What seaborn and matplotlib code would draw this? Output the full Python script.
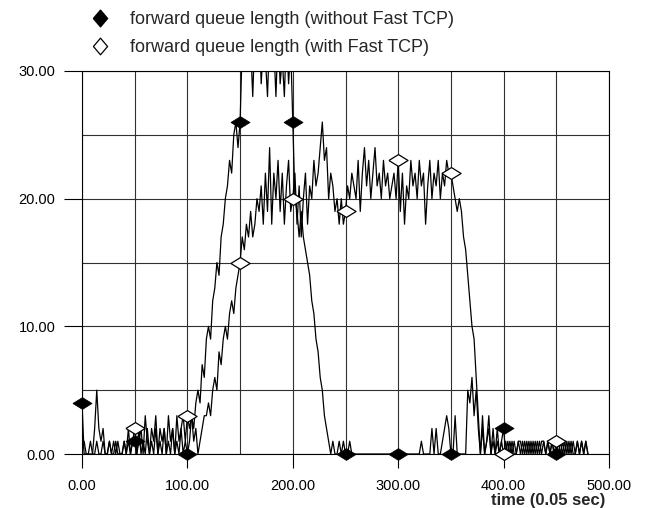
import numpy as np
import pandas as pd
import matplotlib
matplotlib.use("Agg")
import matplotlib.pyplot as plt
from matplotlib.lines import Line2D
from matplotlib.ticker import FormatStrFormatter, MultipleLocator
import seaborn as sns

# ===============================
# DATA (queue length, one value every 2 time units)
# ===============================
STEP = 2

# without Fast TCP
queue_without = [
    4, 0, 0, 0, 0, 0, 2, 5, 2, 1, 2, 0, 0, 1, 0, 1, 0, 1, 0, 0, 1, 0, 1, 0, 1,
    1, 0, 2, 0, 1, 0, 2, 0, 1, 0, 2, 0, 1, 0, 2, 0, 1, 0, 2, 0, 1, 0, 2, 0, 1,
    0, 1, 3, 2, 4, 5, 4, 7, 6, 9, 10, 9, 12, 13, 15, 14, 17, 18, 20, 21, 23, 22, 25, 26, 24,
    26, 32, 31, 34, 30, 32, 28, 33, 30, 34, 29, 32, 31, 28, 33, 30, 32, 28, 33, 29, 31, 28, 33, 29, 32,
    26, 20, 19, 17, 19, 17, 16, 15, 14, 12, 11, 9, 8, 6, 5, 3, 2, 1, 0, 1, 0, 0, 1, 0, 1,
    0, 0, 1, 0, 0, 0, 0, 0, 0, 0, 0, 0, 0, 0, 0, 0, 0, 0, 0, 0, 0, 0, 0, 0, 0,
    0, 0, 0, 0, 0, 0, 0, 0, 0, 0, 0, 1, 0, 0, 0, 0, 2, 0, 2, 0, 0, 1, 2, 3, 2,
    0, 0, 3, 0, 0, 0, 0, 0, 5, 4, 6, 3, 5, 2, 0, 3, 0, 1, 2, 0, 1, 0, 2, 0, 1,
    2, 0, 1, 0, 1, 0, 0, 1, 0, 1, 0, 1, 0, 1, 0, 1, 0, 1, 0, 1, 0, 1, 0, 1, 0,
    0, 1, 0, 1, 0, 1, 0, 1, 0, 0, 1, 0, 1, 0, 1, 0,
]

# with Fast TCP
queue_with = [
    0, 1, 0, 0, 1, 0, 0, 1, 0, 0, 1, 0, 0, 1, 0, 0, 1, 0, 0, 0, 1, 0, 2, 0, 1,
    2, 0, 1, 2, 0, 3, 1, 0, 2, 1, 3, 0, 2, 1, 2, 0, 3, 1, 2, 0, 3, 1, 2, 3, 1,
    3, 2, 3, 1, 2, 0, 1, 2, 3, 3, 4, 3, 5, 6, 5, 8, 7, 9, 10, 9, 11, 12, 11, 13, 14,
    15, 17, 16, 18, 17, 19, 17, 18, 20, 19, 21, 18, 22, 19, 24, 18, 22, 20, 23, 19, 22, 18, 21, 23, 19,
    20, 22, 18, 21, 17, 20, 22, 18, 21, 20, 23, 21, 22, 24, 26, 23, 24, 20, 22, 21, 19, 20, 18, 20, 18,
    19, 21, 20, 22, 21, 20, 23, 19, 22, 24, 21, 23, 20, 22, 24, 21, 22, 20, 23, 21, 22, 20, 21, 22, 20,
    23, 19, 22, 18, 21, 20, 23, 21, 22, 20, 23, 21, 22, 18, 21, 23, 20, 22, 21, 23, 20, 22, 21, 23, 22,
    22, 21, 20, 19, 20, 19, 17, 16, 14, 12, 10, 9, 6, 3, 0, 2, 0, 1, 3, 0, 2, 0, 1, 0, 1,
    0, 1, 0, 1, 0, 1, 0, 1, 1, 0, 1, 0, 1, 0, 1, 0, 1, 0, 1, 1, 0, 1, 0, 1, 0,
    1, 0, 1, 0, 1, 0, 1, 0, 1, 0, 1, 0, 1, 0, 1, 0,
]

# marker samples
marker_t_without = [0, 50, 100, 150, 200, 250, 300, 350, 400, 450]
marker_v_without = [4, 1, 0, 26, 26, 0, 0, 0, 2, 0]
marker_t_with = [50, 100, 150, 200, 250, 300, 350, 400, 450]
marker_v_with = [2, 3, 15, 20, 19, 23, 22, 0, 1]

label_without = "forward queue length (without Fast TCP)"
label_with = "forward queue length (with Fast TCP)"

# ===============================
# STYLE
# ===============================
sns.set_theme(style="white")
plt.rcParams["font.family"] = ["Liberation Sans", "DejaVu Sans"]

df = pd.DataFrame({
    "t": np.arange(len(queue_without)) * STEP,
    "without": queue_without,
    "with": queue_with,
})

diamond = [(-1, 0), (0, 0.62), (1, 0), (0, -0.62), (-1, 0)]
diamond_leg = [(-0.85, 0), (0, 1), (0.85, 0), (0, -1), (-0.85, 0)]

fig = plt.figure(figsize=(6.53, 5.08), dpi=100)
ax = fig.add_axes([82 / 653, 1 - 454 / 508, (609 - 82) / 653, (454 - 71) / 508])

sns.lineplot(data=df, x="t", y="without", ax=ax, color="black", lw=0.9,
             estimator=None, sort=False)
sns.lineplot(data=df, x="t", y="with", ax=ax, color="black", lw=0.9,
             estimator=None, sort=False)

sns.scatterplot(x=marker_t_with, y=marker_v_with, ax=ax, marker=diamond,
                s=190, facecolor="white", edgecolor="black", linewidth=0.9,
                zorder=5, clip_on=False)
sns.scatterplot(x=marker_t_without, y=marker_v_without, ax=ax, marker=diamond,
                s=190, color="black", edgecolor="black", linewidth=0.5,
                zorder=6, clip_on=False)

ax.set_xlim(0, 500)
ax.set_ylim(0, 30)
ax.xaxis.set_major_locator(MultipleLocator(100))
ax.xaxis.set_minor_locator(MultipleLocator(50))
ax.yaxis.set_major_locator(MultipleLocator(10))
ax.yaxis.set_minor_locator(MultipleLocator(5))
ax.xaxis.set_major_formatter(FormatStrFormatter("%.2f"))
ax.yaxis.set_major_formatter(FormatStrFormatter("%.2f"))

ax.grid(which="both", color="#303030", lw=0.8)
ax.set_axisbelow(True)
ax.tick_params(axis="both", which="both", direction="out", color="black",
               width=0.8, labelsize=10.5, labelcolor="black")
ax.tick_params(axis="y", which="major", length=13, pad=6)
ax.tick_params(axis="y", which="minor", length=6.5)
ax.tick_params(axis="x", which="major", length=10, pad=8)
ax.tick_params(axis="x", which="minor", length=7)
ax.tick_params(left=True, bottom=True)
for side in ax.spines:
    ax.spines[side].set_color("black")
    ax.spines[side].set_linewidth(0.8)
ax.set_xlabel("")
ax.set_ylabel("")

fig.text(605 / 653, 1 - 500 / 508, "time (0.05 sec)", ha="right", va="center",
         fontsize=12, fontweight="bold")

# ===============================
# LEGEND
# ===============================
handles = [
    Line2D([], [], ls="none", marker=diamond_leg, markersize=12,
           markerfacecolor="black", markeredgecolor="black"),
    Line2D([], [], ls="none", marker=diamond_leg, markersize=12,
           markerfacecolor="white", markeredgecolor="black", markeredgewidth=0.9),
]
fig.legend(handles, [label_without, label_with], loc="upper left",
           bbox_to_anchor=(91 / 653, 1 - 11 / 508), frameon=False,
           fontsize=13, handlelength=1, handletextpad=1.15, borderpad=0,
           borderaxespad=0, labelspacing=0.6)

plt.savefig("out.png", dpi=100)
plt.close()
